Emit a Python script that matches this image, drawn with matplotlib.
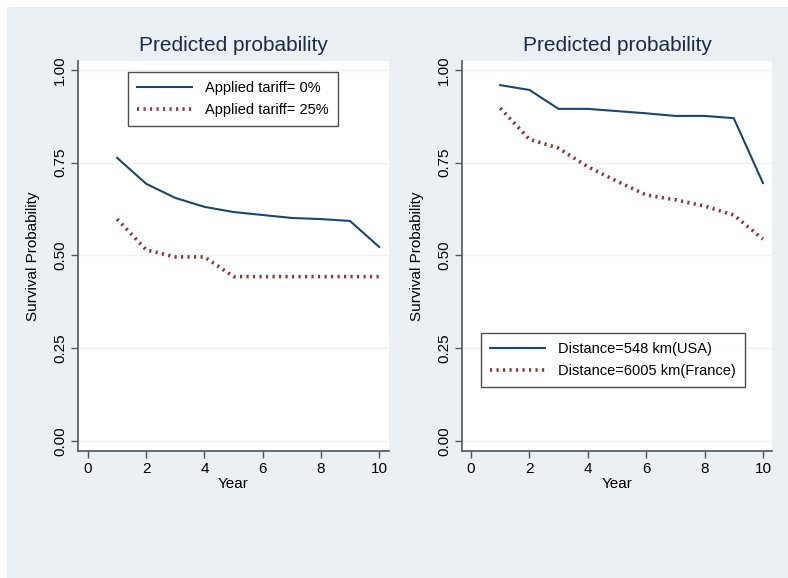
import matplotlib
matplotlib.use("Agg")
import matplotlib.pyplot as plt
from matplotlib.patches import Rectangle

years = [1, 2, 3, 4, 5, 6, 7, 8, 9, 10]
tariff0 = [0.763, 0.693, 0.655, 0.631, 0.617, 0.609, 0.601, 0.598, 0.593, 0.523]
tariff25 = [0.598, 0.515, 0.496, 0.496, 0.443, 0.443, 0.443, 0.443, 0.443, 0.443]
dist_usa = [0.959, 0.946, 0.895, 0.895, 0.889, 0.883, 0.876, 0.876, 0.870, 0.695]
dist_france = [0.897, 0.813, 0.789, 0.739, 0.700, 0.663, 0.650, 0.633, 0.609, 0.544]
labels_left = ["Applied tariff= 0%", "Applied tariff= 25%"]
labels_right = ["Distance=548 km(USA)", "Distance=6005 km(France)"]
yticks = [0.0, 0.25, 0.5, 0.75, 1.0]
xticks = [0, 2, 4, 6, 8, 10]

plt.rcParams['font.family'] = ['Liberation Sans', 'DejaVu Sans']

W, H = 788, 578
fig = plt.figure(figsize=(W / 100, H / 100), dpi=100)
fig.patch.set_facecolor('white')
bg = '#eaf0f3'
fig.patches.append(Rectangle((7 / W, 0), 1 - 7 / W, 1 - 7 / H, transform=fig.transFigure,
                             facecolor=bg, edgecolor='none', zorder=-10))

navy = '#1a476f'
maroon = '#90353b'
title_col = '#1e2b44'

def fx(px):
    return px / W

def fy(py):
    return 1 - py / H

panels = [
    dict(left=78, right=389, xlim=(-0.344, 10.34), s1=tariff0, s2=tariff25, labels=labels_left,
         leg=(128, 72)),
    dict(left=462, right=772, xlim=(-0.308, 10.31), s1=dist_usa, s2=dist_france, labels=labels_right,
         leg=(481, 333)),
]
top, bottom = 61, 451

for p in panels:
    ax = fig.add_axes([fx(p['left']), fy(bottom), fx(p['right'] - p['left']), (bottom - top) / H])
    ax.set_facecolor('white')
    ax.plot(years, p['s1'], color=navy, lw=1.5, solid_joinstyle='miter', label=p['labels'][0])
    ax.plot(years, p['s2'], color=maroon, lw=2.6, linestyle=(0, (0.6, 1.2)), label=p['labels'][1])
    ax.set_xlim(*p['xlim'])
    ax.set_ylim(-0.027, 1.024)
    ax.set_xticks(xticks)
    ax.set_yticks(yticks)
    ax.set_yticklabels([f"{v:.2f}" for v in yticks], rotation=90, va='center')
    for y in yticks:
        ax.axhline(y, color='#eaf2f3', lw=1.0, zorder=0)
    for s in ['top', 'right']:
        ax.spines[s].set_visible(False)
    for s in ['left', 'bottom']:
        ax.spines[s].set_color('#555555')
        ax.spines[s].set_linewidth(1.2)
    ax.tick_params(axis='both', direction='out', length=5, width=1, color='#555555',
                   labelsize=11, labelcolor='black', pad=3)
    ax.set_xlabel('Year', fontsize=11, labelpad=1)
    ax.set_ylabel('Survival Probability', fontsize=11, labelpad=9)
    ax.set_title('Predicted probability', fontsize=15, color=title_col, pad=7)
    lx, ly = p['leg']
    leg = ax.legend(loc='upper left', bbox_to_anchor=(fx(lx), fy(ly)), bbox_transform=fig.transFigure,
                    frameon=True, fancybox=False, fontsize=10.5, handlelength=3.8,
                    borderpad=0.6, labelspacing=0.55, handletextpad=0.9, borderaxespad=0)
    leg.get_frame().set_edgecolor('#222222')
    leg.get_frame().set_linewidth(1.0)

fig.savefig('out.png', dpi=100, facecolor=fig.get_facecolor())
